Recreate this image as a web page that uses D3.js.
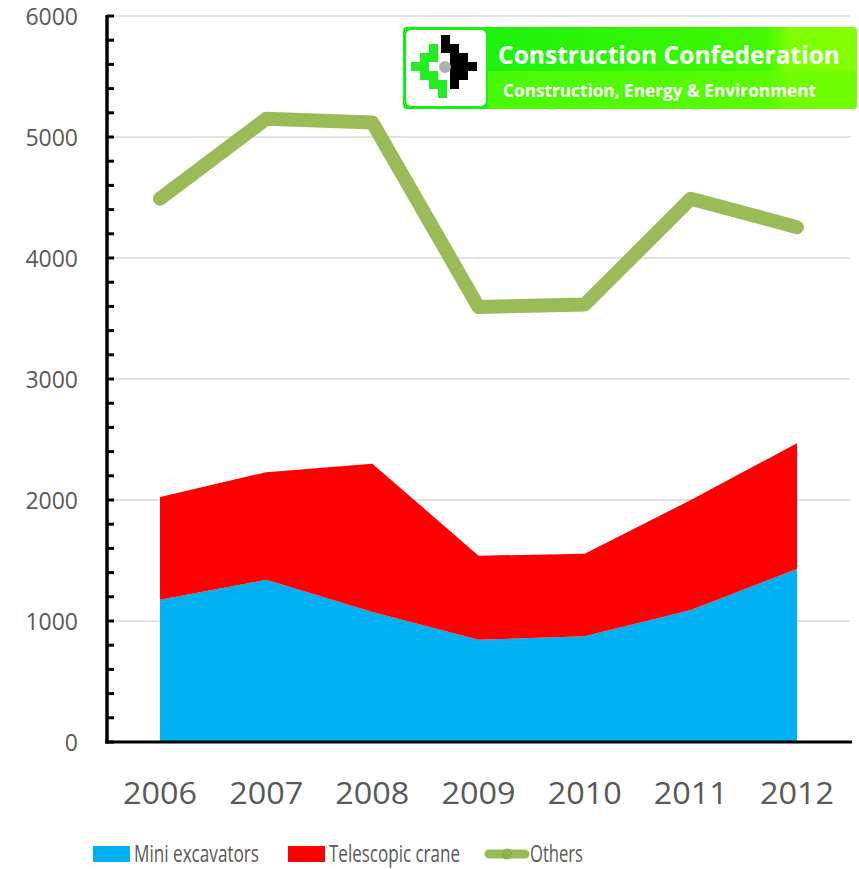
<!DOCTYPE html>
<html>
<head>
<meta charset="utf-8">
<script src="https://cdn.jsdelivr.net/npm/d3@7"></script>
<style>
  body { margin: 0; background: #fff; }
  text { font-family: "Open Sans", "Noto Sans", sans-serif; }
</style>
</head>
<body>
<div id="chart"></div>
<script>
var years = ["2006", "2007", "2008", "2009", "2010", "2011", "2012"];
var miniExcavators = [1175, 1340, 1075, 845, 875, 1090, 1430];
var telescopicCrane = [850, 890, 1225, 695, 680, 910, 1040];
var others = [4490, 5150, 5120, 3595, 3615, 4490, 4255];
var yTicks = [0, 1000, 2000, 3000, 4000, 5000, 6000];

var svgWidth = 859, svgHeight = 869;

var svg = d3.select("#chart")
    .append("svg")
    .attr("width", svgWidth)
    .attr("height", svgHeight);

var xScale = d3.scalePoint()
    .domain(years)
    .range([160, 797]);

var yScale = d3.scaleLinear()
    .domain([0, 6000])
    .range([742, 16]);

// gridlines
svg.append("g")
    .selectAll("line")
    .data(yTicks.slice(1))
    .enter()
    .append("line")
    .attr("x1", 107).attr("x2", 850)
    .attr("y1", d => yScale(d)).attr("y2", d => yScale(d))
    .attr("stroke", "#d9d9d9")
    .attr("stroke-width", 1.5);

// stacked areas
var rows = years.map((y, i) => ({ year: y, mini: miniExcavators[i], crane: telescopicCrane[i] }));
var stacked = d3.stack().keys(["mini", "crane"])(rows);
var colors = { mini: "#00b0f0", crane: "#ff0000" };

var area = d3.area()
    .x(d => xScale(d.data.year))
    .y0(d => yScale(d[0]))
    .y1(d => yScale(d[1]));

svg.append("g")
    .selectAll("path")
    .data(stacked)
    .enter()
    .append("path")
    .attr("d", area)
    .attr("fill", d => colors[d.key]);

// others line
var line = d3.line()
    .x((d, i) => xScale(years[i]))
    .y(d => yScale(d));

svg.append("path")
    .datum(others)
    .attr("d", line)
    .attr("fill", "none")
    .attr("stroke", "#9bbb59")
    .attr("stroke-width", 14)
    .attr("stroke-linecap", "round")
    .attr("stroke-linejoin", "round");

// y axis with minor ticks
var minorTicks = d3.range(0, 6001, 200);
svg.append("g")
    .selectAll("line")
    .data(minorTicks)
    .enter()
    .append("line")
    .attr("x1", 107).attr("x2", 114)
    .attr("y1", d => yScale(d)).attr("y2", d => yScale(d))
    .attr("stroke", "#000")
    .attr("stroke-width", 3);

svg.append("line")
    .attr("x1", 107).attr("x2", 107)
    .attr("y1", yScale(6000) - 1).attr("y2", yScale(0) + 1.5)
    .attr("stroke", "#000")
    .attr("stroke-width", 3.5);

svg.append("line")
    .attr("x1", 105).attr("x2", 852)
    .attr("y1", yScale(0)).attr("y2", yScale(0))
    .attr("stroke", "#000")
    .attr("stroke-width", 3);

svg.append("g")
    .selectAll("text")
    .data(yTicks)
    .enter()
    .append("text")
    .attr("x", 78)
    .attr("y", d => yScale(d) + 9)
    .attr("text-anchor", "end")
    .attr("font-size", 23)
    .attr("fill", "#595959")
    .text(d => d);

svg.append("g")
    .selectAll("text")
    .data(years)
    .enter()
    .append("text")
    .attr("x", d => xScale(d))
    .attr("y", 804)
    .attr("text-anchor", "middle")
    .attr("font-size", 31)
    .attr("fill", "#595959")
    .attr("textLength", 74)
    .attr("lengthAdjust", "spacingAndGlyphs")
    .text(d => d);

// legend
var legend = svg.append("g");
legend.append("rect").attr("x", 93).attr("y", 846).attr("width", 37).attr("height", 16).attr("fill", "#00b0f0");
legend.append("text").attr("x", 134).attr("y", 862).attr("font-size", 24).attr("fill", "#595959")
    .attr("textLength", 125).attr("lengthAdjust", "spacingAndGlyphs").text("Mini excavators");
legend.append("rect").attr("x", 288).attr("y", 846).attr("width", 37).attr("height", 16).attr("fill", "#ff0000");
legend.append("text").attr("x", 329).attr("y", 862).attr("font-size", 24).attr("fill", "#595959")
    .attr("textLength", 131).attr("lengthAdjust", "spacingAndGlyphs").text("Telescopic crane");
legend.append("line").attr("x1", 489).attr("x2", 525).attr("y1", 854).attr("y2", 854)
    .attr("stroke", "#9bbb59").attr("stroke-width", 9).attr("stroke-linecap", "round");
legend.append("circle").attr("cx", 507).attr("cy", 854).attr("r", 5.5).attr("fill", "#8fb04c");
legend.append("text").attr("x", 530).attr("y", 862).attr("font-size", 24).attr("fill", "#595959")
    .attr("textLength", 53).attr("lengthAdjust", "spacingAndGlyphs").text("Others");

// logo
var logo = svg.append("g").attr("transform", "translate(403,27)");
var grad = svg.append("defs").append("linearGradient").attr("id", "lg").attr("x1", 0).attr("x2", 1);
grad.append("stop").attr("offset", "0").attr("stop-color", "#10f010");
grad.append("stop").attr("offset", "0.8").attr("stop-color", "#44f800");
grad.append("stop").attr("offset", "0.85").attr("stop-color", "#7cff00");
grad.append("stop").attr("offset", "1").attr("stop-color", "#80ff00");
logo.append("rect").attr("width", 454).attr("height", 82).attr("rx", 4).attr("fill", "url(#lg)");
logo.append("rect").attr("x", 85).attr("y", 44).attr("width", 369).attr("height", 38).attr("fill", "#66ff00").attr("opacity", 0.6);
logo.append("rect").attr("x", 3).attr("y", 3).attr("width", 80).attr("height", 76).attr("rx", 5).attr("fill", "#fff");
var cell = 9;
var greenCells = [[26, 17], [17, 26], [26, 26], [8, 35], [17, 35], [17, 44], [26, 44], [26, 53], [35, 53], [35, 62]];
var blackCells = [[38, 8], [38, 17], [47, 17], [47, 26], [56, 26], [47, 35], [56, 35], [65, 35], [47, 44], [56, 44], [47, 53]];
logo.selectAll("rect.g").data(greenCells).enter().append("rect").attr("class", "g")
    .attr("x", d => d[0]).attr("y", d => d[1]).attr("width", cell).attr("height", cell).attr("fill", "#22ee22");
logo.selectAll("rect.b").data(blackCells).enter().append("rect").attr("class", "b")
    .attr("x", d => d[0]).attr("y", d => d[1]).attr("width", cell).attr("height", cell).attr("fill", "#000");
logo.append("circle").attr("cx", 42).attr("cy", 40).attr("r", 6).attr("fill", "#b0b0b0");
logo.append("text").attr("x", 95).attr("y", 37).attr("font-size", 25).attr("font-weight", "bold")
    .attr("fill", "#fff").attr("textLength", 342).attr("lengthAdjust", "spacingAndGlyphs").text("Construction Confederation");
logo.append("text").attr("x", 100).attr("y", 70).attr("font-size", 18).attr("font-weight", "bold")
    .attr("fill", "#fff").attr("textLength", 313).attr("lengthAdjust", "spacingAndGlyphs").text("Construction, Energy & Environment");
</script>
</body>
</html>
